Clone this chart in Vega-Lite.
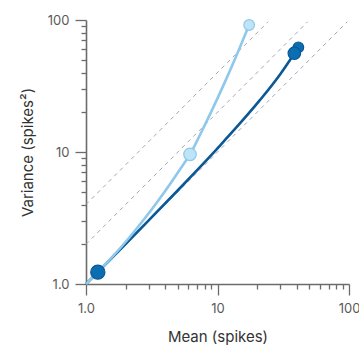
{
  "$schema": "https://vega.github.io/schema/vega-lite/v6.json",
  "width": 263,
  "height": 264,
  "autosize": {"type": "none"},
  "padding": {"left": 86, "top": 20, "right": 10, "bottom": 64},
  "background": "white",
  "config": {
    "view": {"stroke": null},
    "font": "Inter",
    "axis": {
      "domainColor": "#6b6b6b",
      "domainWidth": 1.6,
      "tickColor": "#6b6b6b",
      "tickWidth": 1.3,
      "grid": false,
      "labelFont": "Inter",
      "labelFontSize": 13,
      "labelColor": "#5a5a5a",
      "labelOverlap": false,
      "labelFlush": false,
      "titleFont": "Inter",
      "titleFontSize": 15,
      "titleFontWeight": "normal",
      "titleColor": "#333333"
    }
  },
  "datasets": {
    "reference": [
      {"ratio": "1x", "mean": 1, "variance": 1},
      {"ratio": "1x", "mean": 97, "variance": 97},
      {"ratio": "2x", "mean": 1, "variance": 2},
      {"ratio": "2x", "mean": 48.5, "variance": 97},
      {"ratio": "4x", "mean": 1, "variance": 4},
      {"ratio": "4x", "mean": 24.25, "variance": 97}
    ],
    "curves": [
      {"curve": "B", "mean": 1, "variance": 1},
      {"curve": "B", "mean": 1.23, "variance": 1.23},
      {"curve": "B", "mean": 2, "variance": 2.009},
      {"curve": "B", "mean": 3, "variance": 3.035},
      {"curve": "B", "mean": 5, "variance": 5.13},
      {"curve": "B", "mean": 7.36, "variance": 7.69},
      {"curve": "B", "mean": 10.45, "variance": 11.2},
      {"curve": "B", "mean": 14.8, "variance": 16.45},
      {"curve": "B", "mean": 21, "variance": 24.7},
      {"curve": "B", "mean": 29.9, "variance": 38.7},
      {"curve": "B", "mean": 35.6, "variance": 49.8},
      {"curve": "B", "mean": 38.4, "variance": 56},
      {"curve": "A", "mean": 1, "variance": 1},
      {"curve": "A", "mean": 1.23, "variance": 1.23},
      {"curve": "A", "mean": 1.585, "variance": 1.602},
      {"curve": "A", "mean": 2.089, "variance": 2.192},
      {"curve": "A", "mean": 2.754, "variance": 3.077},
      {"curve": "A", "mean": 3.548, "variance": 4.295},
      {"curve": "A", "mean": 4.467, "variance": 5.929},
      {"curve": "A", "mean": 5.37, "variance": 7.776},
      {"curve": "A", "mean": 6.18, "variance": 9.6},
      {"curve": "A", "mean": 7.413, "variance": 13.68},
      {"curve": "A", "mean": 8.913, "variance": 19.95},
      {"curve": "A", "mean": 11.22, "variance": 32.8},
      {"curve": "A", "mean": 14.13, "variance": 55.53},
      {"curve": "A", "mean": 17.4, "variance": 91.7}
    ],
    "markers": [
      {"curve": "B", "tier": "minor", "mean": 41.2, "variance": 62.1},
      {"curve": "B", "tier": "major", "mean": 38.4, "variance": 56},
      {"curve": "A", "tier": "major", "mean": 6.18, "variance": 9.6},
      {"curve": "A", "tier": "minor", "mean": 17.4, "variance": 91.7},
      {"curve": "B", "tier": "base", "mean": 1.23, "variance": 1.23}
    ]
  },
  "encoding": {
    "x": {
      "field": "mean",
      "type": "quantitative",
      "title": "Mean (spikes)",
      "scale": {"type": "log", "domain": [1, 100], "nice": false},
      "axis": {
        "values": [1, 2, 3, 4, 5, 6, 7, 8, 9, 10, 20, 30, 40, 50, 60, 70, 80, 90, 100],
        "tickSize": {"condition": {"test": "datum.value == 1 || datum.value == 10 || datum.value == 100", "value": 11}, "value": 5},
        "labelExpr": "datum.value == 1 ? '1.0' : datum.value == 10 ? '10' : datum.value == 100 ? '100' : ''",
        "labelPadding": 7,
        "titlePadding": 14
      }
    },
    "y": {
      "field": "variance",
      "type": "quantitative",
      "title": "Variance (spikes²)",
      "scale": {"type": "log", "domain": [1, 100], "nice": false},
      "axis": {
        "values": [1, 2, 3, 4, 5, 6, 7, 8, 9, 10, 20, 30, 40, 50, 60, 70, 80, 90, 100],
        "tickSize": {"condition": {"test": "datum.value == 1 || datum.value == 10 || datum.value == 100", "value": 11}, "value": 5},
        "labelExpr": "datum.value == 1 ? '1.0' : datum.value == 10 ? '10' : datum.value == 100 ? '100' : ''",
        "labelPadding": 6,
        "titlePadding": 12
      }
    }
  },
  "layer": [
    {
      "data": {"name": "reference"},
      "mark": {"type": "line", "color": "#a4a8b6", "strokeWidth": 1, "strokeDash": [4, 4]},
      "encoding": {"detail": {"field": "ratio"}}
    },
    {
      "data": {"name": "curves"},
      "transform": [{"filter": "datum.curve == 'B'"}],
      "mark": {"type": "line", "strokeWidth": 2.6, "interpolate": "monotone"},
      "encoding": {
        "stroke": {"field": "curve", "type": "nominal", "scale": {"domain": ["A", "B"], "range": ["#8ec8ea", "#0b5896"]}, "legend": null}
      }
    },
    {
      "data": {"name": "curves"},
      "transform": [{"filter": "datum.curve == 'A'"}],
      "mark": {"type": "line", "strokeWidth": 2.6, "interpolate": "monotone"},
      "encoding": {
        "stroke": {"field": "curve", "type": "nominal", "legend": null}
      }
    },
    {
      "data": {"name": "markers"},
      "mark": {"type": "point", "shape": "circle", "filled": false, "opacity": 1, "strokeWidth": 1.2},
      "encoding": {
        "stroke": {"field": "curve", "type": "nominal", "legend": null},
        "fill": {"field": "curve", "type": "nominal", "scale": {"domain": ["A", "B"], "range": ["#bfe4f8", "#0b6db2"]}, "legend": null},
        "size": {"field": "tier", "type": "nominal", "scale": {"domain": ["base", "major", "minor"], "range": [201, 113, 62]}, "legend": null}
      }
    }
  ]
}
